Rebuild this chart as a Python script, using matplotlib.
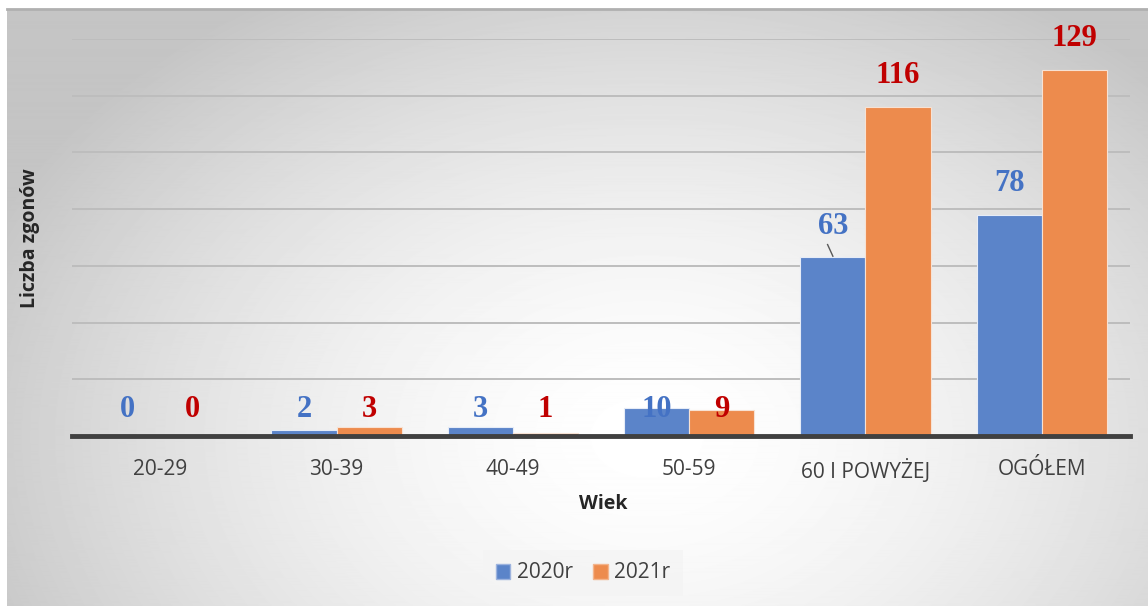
import numpy as np
import matplotlib.pyplot as plt
from matplotlib.patches import Patch

# dane
grupy = ['20-29', '30-39', '40-49', '50-59', '60 I POWYŻEJ', 'OGÓŁEM']
zgony_2020 = [0, 2, 3, 10, 63, 78]
zgony_2021 = [0, 3, 1, 9, 116, 129]
lata = ['2020r', '2021r']

kolor_2020 = '#5B84C9'
kolor_2021 = '#ED8B4D'
tekst_2020 = '#4472C4'
tekst_2021 = '#C00000'

W, H = 1148, 606
fig = plt.figure(figsize=(W / 100, H / 100), dpi=100)

# tlo z gradientem radialnym
bg = fig.add_axes([7 / W, 0, 1 - 7 / W, 1 - 9 / H])
yy, xx = np.mgrid[0:600, 0:1141]
r = np.sqrt(((xx - 640) / 720.0) ** 2 + ((yy - 430) / 520.0) ** 2)
val = 1.0 - 0.23 * np.clip(r, 0, 1) ** 1.6
bg.imshow(val, cmap='gray', vmin=0, vmax=1, aspect='auto',
          interpolation='bilinear', origin='upper')
bg.set_xticks([])
bg.set_yticks([])
for s in ['left', 'right', 'bottom']:
    bg.spines[s].set_visible(False)
bg.spines['top'].set_color('#B0B0B0')
bg.spines['top'].set_linewidth(2)

ax = fig.add_axes([72 / W, (H - 436) / H, (1130 - 72) / W, (436 - 39) / H])
ax.patch.set_alpha(0)

x = np.arange(len(grupy))
w = 0.37
ax.bar(x - w / 2, zgony_2020, w, color=kolor_2020, edgecolor='#E6ECF7',
       linewidth=0.8, zorder=3)
ax.bar(x + w / 2, zgony_2021, w, color=kolor_2021, edgecolor='#F7E2D4',
       linewidth=0.8, zorder=3)

ax.set_ylim(0, 140)
ax.set_xlim(-0.5, len(grupy) - 0.5)
ax.set_yticks(np.arange(20, 141, 20))
ax.yaxis.grid(True, color='#BDBDBD', linewidth=1.4, zorder=0)
ax.tick_params(axis='y', left=False, labelleft=False)
ax.tick_params(axis='x', bottom=False, pad=13, labelsize=15,
               labelcolor='#404040')
ax.set_xticks(x)
ax.set_xticklabels(grupy, fontfamily='Open Sans')
for s in ['left', 'right', 'top']:
    ax.spines[s].set_visible(False)
ax.spines['bottom'].set_color('#404040')
ax.spines['bottom'].set_linewidth(3.5)
ax.spines['bottom'].set_zorder(4)

# etykiety wartosci
def poz(v):
    return 9.2 if v <= 10 else v + 11

for i, (a, b) in enumerate(zip(zgony_2020, zgony_2021)):
    ax.text(i - w / 2, poz(a), str(a), ha='center', va='center',
            fontsize=22, fontweight='bold', family='Liberation Serif',
            color=tekst_2020, zorder=5)
    ax.text(i + w / 2, poz(b), str(b), ha='center', va='center',
            fontsize=22, fontweight='bold', family='Liberation Serif',
            color=tekst_2021, zorder=5)

# linia odniesienia dla etykiety 63
ax.plot([4 - w / 2 - 0.03, 4 - w / 2], [zgony_2020[4] + 4.5, zgony_2020[4] + 0.4],
        color='#595959', linewidth=1, zorder=5)

fig.text(603 / W, 1 - 504 / H, 'Wiek', ha='center', va='center',
         fontsize=14, fontweight='bold', family='Open Sans', color='#262626')
fig.text(30 / W, 1 - 238 / H, 'Liczba zgonów', ha='center', va='center',
         rotation=90, fontsize=14, fontweight='bold', family='Open Sans',
         color='#262626')

uchwyty = [Patch(facecolor=kolor_2020, edgecolor='#9DB3DE', label=lata[0]),
           Patch(facecolor=kolor_2021, edgecolor='#F3B48C', label=lata[1])]
leg = fig.legend(handles=uchwyty, loc='center', bbox_to_anchor=(583 / W, 1 - 573 / H),
                 ncol=2, frameon=True, handlelength=0.7,
                 handleheight=0.7, handletextpad=0.3, columnspacing=1.0,
                 borderpad=0.6, prop={'family': 'Open Sans', 'size': 15})
leg.get_frame().set_facecolor('#F4F4F4')
leg.get_frame().set_edgecolor('none')
leg.get_frame().set_boxstyle('square', pad=0)
for t in leg.get_texts():
    t.set_color('#404040')

fig.savefig('out.png', dpi=100)
